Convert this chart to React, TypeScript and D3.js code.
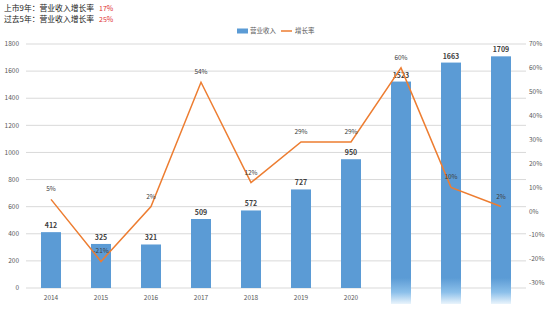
import { useRef, useEffect } from "react";
import * as d3 from "d3";

const years = ["2014", "2015", "2016", "2017", "2018", "2019", "2020", "2021", "2022", "2023"];
const revenue = [412, 325, 321, 509, 572, 727, 950, 1523, 1663, 1709];
const growth = [5, -21, 2, 54, 12, 29, 29, 60, 10, 2];
const leftTicks = [0, 200, 400, 600, 800, 1000, 1200, 1400, 1600, 1800];
const rightTicks = [-30, -20, -10, 0, 10, 20, 30, 40, 50, 60, 70];
// years hidden under the washed-out strip at the bottom of the picture
const hiddenYears = ["2021", "2022", "2023"];
const noteLabels = ["上市9年：营业收入增长率", "过去5年：营业收入增长率"];
const notePcts = ["17%", "25%"];

const FONT = "'Noto Sans CJK SC', 'Noto Sans', sans-serif";

const App = () => {
  const svgRef = useRef<SVGSVGElement>(null);

  useEffect(() => {
    const svg = d3.select(svgRef.current);
    svg.selectAll("*").remove();

    const width = 554;
    const height = 312;
    const margin = { top: 44, right: 28, bottom: 24, left: 26 };
    const innerWidth = width - margin.left - margin.right;
    const innerHeight = height - margin.top - margin.bottom;

    const chart = svg
      .append("g")
      .attr("transform", `translate(${margin.left}, ${margin.top})`);

    const x = d3.scaleBand().domain(years).range([0, innerWidth]).paddingInner(0.6).paddingOuter(0.3);
    const y = d3.scaleLinear().domain([0, 1800]).range([innerHeight, 0]);
    const y2 = d3.scaleLinear().domain([-30, 70]).range([innerHeight - 5, 0]);

    // gridlines
    chart
      .append("g")
      .selectAll("line")
      .data(leftTicks)
      .join("line")
      .attr("x1", 0)
      .attr("x2", innerWidth)
      .attr("y1", (d) => y(d))
      .attr("y2", (d) => y(d))
      .attr("stroke", "#d9d9d9")
      .attr("stroke-width", 1);

    // left axis labels
    chart
      .append("g")
      .selectAll("text")
      .data(leftTicks)
      .join("text")
      .attr("x", -7)
      .attr("y", (d) => y(d))
      .attr("dy", "0.35em")
      .attr("text-anchor", "end")
      .attr("font-size", 6.5)
      .attr("font-family", FONT)
      .attr("fill", "#595959")
      .text((d) => d);

    // right axis labels
    chart
      .append("g")
      .selectAll("text")
      .data(rightTicks)
      .join("text")
      .attr("x", innerWidth + 3)
      .attr("y", (d) => y2(d))
      .attr("dy", "0.35em")
      .attr("text-anchor", "start")
      .attr("font-size", 6.5)
      .attr("font-family", FONT)
      .attr("fill", "#595959")
      .text((d) => `${d}%`);

    // x labels
    chart
      .append("g")
      .selectAll("text")
      .data(years.filter((d) => !hiddenYears.includes(d)))
      .join("text")
      .attr("x", (d) => x(d)! + x.bandwidth() / 2)
      .attr("y", innerHeight + 12)
      .attr("text-anchor", "middle")
      .attr("font-size", 6.5)
      .attr("font-family", FONT)
      .attr("fill", "#595959")
      .text((d) => d);

    // bars
    chart
      .append("g")
      .selectAll("rect")
      .data(years)
      .join("rect")
      .attr("x", (d) => x(d)!)
      .attr("y", (d, i) => y(revenue[i]))
      .attr("width", x.bandwidth())
      .attr("height", (d, i) => innerHeight - y(revenue[i]))
      .attr("fill", "#5b9bd5");

    // washed-out strip under the last bars
    const defs = svg.append("defs");
    const grad = defs
      .append("linearGradient")
      .attr("id", "fade")
      .attr("x1", 0)
      .attr("y1", 0)
      .attr("x2", 0)
      .attr("y2", 1);
    grad.append("stop").attr("offset", "0%").attr("stop-color", "#5b9bd5");
    grad.append("stop").attr("offset", "55%").attr("stop-color", "#8cc0ea");
    grad.append("stop").attr("offset", "100%").attr("stop-color", "#eaf4fc");
    chart
      .append("g")
      .selectAll("rect")
      .data(hiddenYears)
      .join("rect")
      .attr("x", (d) => x(d)!)
      .attr("y", innerHeight - 10)
      .attr("width", x.bandwidth())
      .attr("height", 26)
      .attr("fill", "url(#fade)");

    // bar value labels
    chart
      .append("g")
      .selectAll("text")
      .data(years)
      .join("text")
      .attr("x", (d) => x(d)! + x.bandwidth() / 2)
      .attr("y", (d, i) => y(revenue[i]) - 4)
      .attr("text-anchor", "middle")
      .attr("font-size", 7)
      .attr("font-weight", "bold")
      .attr("font-family", FONT)
      .attr("fill", "#404040")
      .text((d, i) => revenue[i]);

    // growth line
    const line = d3
      .line<number>()
      .x((d, i) => x(years[i])! + x.bandwidth() / 2)
      .y((d) => y2(d));
    chart
      .append("path")
      .datum(growth)
      .attr("d", line)
      .attr("fill", "none")
      .attr("stroke", "#ed7d31")
      .attr("stroke-width", 1.5);

    chart
      .append("g")
      .selectAll("text")
      .data(growth)
      .join("text")
      .attr("x", (d, i) => x(years[i])! + x.bandwidth() / 2)
      .attr("y", (d) => y2(d) - 8)
      .attr("text-anchor", "middle")
      .attr("font-size", 6.5)
      .attr("font-family", FONT)
      .attr("fill", "#404040")
      .text((d) => `${d}%`);

    // legend
    const legend = svg.append("g").attr("transform", "translate(237, 31)");
    legend.append("rect").attr("x", 0).attr("y", -2.5).attr("width", 11).attr("height", 5).attr("fill", "#5b9bd5");
    legend
      .append("text")
      .attr("x", 13)
      .attr("y", 0)
      .attr("dy", "0.35em")
      .attr("font-size", 6.5)
      .attr("font-family", FONT)
      .attr("fill", "#595959")
      .text("营业收入");
    legend
      .append("line")
      .attr("x1", 44)
      .attr("x2", 55)
      .attr("y1", 0)
      .attr("y2", 0)
      .attr("stroke", "#ed7d31")
      .attr("stroke-width", 1.5);
    legend
      .append("text")
      .attr("x", 58)
      .attr("y", 0)
      .attr("dy", "0.35em")
      .attr("font-size", 6.5)
      .attr("font-family", FONT)
      .attr("fill", "#595959")
      .text("增长率");

    // notes top left
    svg
      .append("g")
      .selectAll("text")
      .data(noteLabels)
      .join("text")
      .attr("x", 4)
      .attr("y", (d, i) => 11 + i * 11)
      .attr("font-size", 7.8)
      .attr("font-family", FONT)
      .attr("fill", "#222")
      .text((d) => d);
    svg
      .append("g")
      .selectAll("text")
      .data(notePcts)
      .join("text")
      .attr("x", 99)
      .attr("y", (d, i) => 11 + i * 11)
      .attr("font-size", 7)
      .attr("font-family", FONT)
      .attr("fill", "#e03030")
      .text((d) => d);
  }, []);

  return (
    <svg
      ref={svgRef}
      width={554}
      height={312}
      style={{ position: "absolute", left: 0, top: 0, background: "#fff" }}
    ></svg>
  );
};

export default App;
